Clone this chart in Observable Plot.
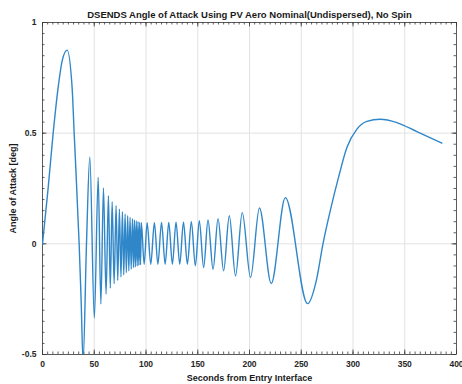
<!DOCTYPE html>
<html><head><meta charset="utf-8">
<script src="https://cdn.jsdelivr.net/npm/d3@7"></script>
<script src="https://cdn.jsdelivr.net/npm/@observablehq/plot@0.6"></script>
<style>body{margin:0;background:#fff} svg{display:block}</style>
</head><body><div id="chart"></div>
<script>
// Seconds from entry interface (extrema and shape points)
const timeS = [0, 5.5, 10.3, 15.1, 19, 23.8, 28.6, 30.6, 35.4, 37.3, 39.2, 42.5, 45.7, 50.1, 53.8, 56.4, 58.9, 61.4, 63.7, 65.5,
  67.3, 69.2, 71.1, 72.7, 74.3, 75.8, 77.2, 78.5, 79.8, 81.0, 82.3, 83.4, 84.6, 85.7, 86.9, 87.9, 88.8, 89.7, 90.6, 91.5,
  92.3, 93.1, 93.9, 94.7, 95.5, 98.2, 101.1, 104.6, 108.1, 111.5, 115, 118.5, 122, 125.5, 129, 132.6, 136.2, 140, 143.8, 147.7,
  151.5, 155.7, 159.9, 164.8, 169.6, 175, 180.5, 186.5, 193, 201, 209.6, 221, 234.6, 256.1, 264.5, 271, 278, 286, 294.1, 303.8,
  313.4, 326.3, 342.4, 361.7, 385.8];
// Angle of attack [deg]
const aoaDeg = [0, 0.254, 0.5, 0.706, 0.827, 0.875, 0.706, 0.5, 0, -0.25, -0.53, 0, 0.393, -0.335, 0.30, -0.272, 0.252, -0.227, 0.217, -0.20,
  0.19, -0.18, 0.172, -0.165, 0.157, -0.15, 0.145, -0.14, 0.135, -0.13, 0.127, -0.122, 0.12, -0.115, 0.113, -0.108, 0.108, -0.104, 0.103, -0.1,
  0.1, -0.097, 0.097, -0.095, 0.095, -0.092, 0.096, -0.092, 0.096, -0.092, 0.097, -0.092, 0.097, -0.092, 0.098, -0.092, 0.098, -0.092, 0.10, -0.099,
  0.104, -0.107, 0.108, -0.115, 0.114, -0.122, 0.127, -0.145, 0.141, -0.152, 0.162, -0.179, 0.209, -0.27, -0.167, 0, 0.149, 0.30, 0.435, 0.518,
  0.553, 0.563, 0.548, 0.507, 0.455];

const xTicks = [0, 50, 100, 150, 200, 250, 300, 350, 400];
const yTicks = [-0.5, 0, 0.5, 1];
const xMinor = d3.range(0, 81).map(i => i * 5);
const yMinor = d3.range(-10, 21).map(i => +(i * 0.05).toFixed(2));

const titleText = "DSENDS Angle of Attack Using PV Aero Nominal(Undispersed), No Spin";
const xLabel = "Seconds from Entry Interface";
const yLabel = "Angle of Attack [deg]";

const W = 462, H = 384, mL = 42, mR = 6, mT = 22, mB = 30;
const iw = W - mL - mR, ih = H - mT - mB;
const data = timeS.map((t, i) => ({t, v: aoaDeg[i]}));
const axisCol = "#3a3a3a";

const chart = Plot.plot({
  width: W, height: H,
  marginLeft: mL, marginRight: mR, marginTop: mT, marginBottom: mB,
  style: {fontFamily: "'Liberation Sans', Arial, sans-serif", fontSize: "8.5px", background: "#fff", overflow: "visible"},
  x: {domain: [0, 400]},
  y: {domain: [-0.5, 1]},
  marks: [
    Plot.ruleX(xTicks, {x: d => d, stroke: "#e2e2e2", strokeWidth: 1}),
    Plot.ruleY(yTicks, {y: d => d, stroke: "#e2e2e2", strokeWidth: 1}),
    // minor ticks (inward) on all four sides
    Plot.ruleX(xMinor, {x: d => d, insetTop: ih - 2.5, stroke: axisCol, strokeWidth: 0.8}),
    Plot.ruleX(xMinor, {x: d => d, insetBottom: ih - 2.5, stroke: axisCol, strokeWidth: 0.8}),
    Plot.ruleY(yMinor, {y: d => d, insetRight: iw - 2.5, stroke: axisCol, strokeWidth: 0.8}),
    Plot.ruleY(yMinor, {y: d => d, insetLeft: iw - 2.5, stroke: axisCol, strokeWidth: 0.8}),
    // major ticks
    Plot.ruleX(xTicks, {x: d => d, insetTop: ih - 4.5, stroke: axisCol, strokeWidth: 0.8}),
    Plot.ruleX(xTicks, {x: d => d, insetBottom: ih - 4.5, stroke: axisCol, strokeWidth: 0.8}),
    Plot.ruleY(yTicks, {y: d => d, insetRight: iw - 4.5, stroke: axisCol, strokeWidth: 0.8}),
    Plot.ruleY(yTicks, {y: d => d, insetLeft: iw - 4.5, stroke: axisCol, strokeWidth: 0.8}),
    Plot.frame({stroke: axisCol, strokeWidth: 0.8}),
    Plot.axisX({ticks: xTicks, tickSize: 0, tickPadding: 6, tickFormat: d => String(d), label: null,
      fontWeight: "bold", fill: "#262626"}),
    Plot.axisY({ticks: yTicks, tickSize: 0, tickPadding: 6, tickFormat: d => String(d), label: null,
      fontWeight: "bold", fill: "#262626"}),
    Plot.line(data, {x: "t", y: "v", curve: "monotone-x", stroke: "#2f86c8", strokeWidth: 1.4, clip: true}),
    Plot.text([titleText], {text: d => d, frameAnchor: "top", dy: -8, lineAnchor: "middle", textAnchor: "middle",
      fontWeight: "bold", fontSize: 9.5, fill: "#1a1a1a"}),
    Plot.text([xLabel], {text: d => d, frameAnchor: "bottom", dy: 24, lineAnchor: "middle", textAnchor: "middle",
      fontWeight: "bold", fontSize: 9, fill: "#1a1a1a"}),
    Plot.text([yLabel], {text: d => d, frameAnchor: "left", dx: -29, rotate: -90, lineAnchor: "middle", textAnchor: "middle",
      fontWeight: "bold", fontSize: 9, fill: "#1a1a1a"})
  ]
});
document.getElementById("chart").appendChild(chart);
</script>
</body></html>
